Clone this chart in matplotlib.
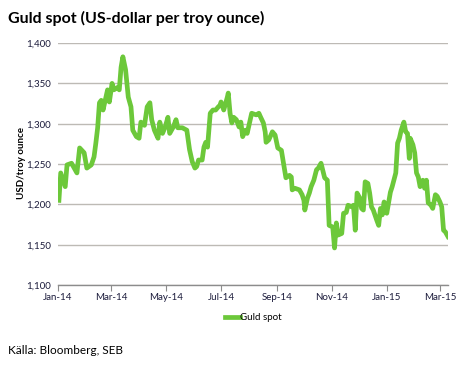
import pandas as pd
import matplotlib
matplotlib.use("Agg")
import matplotlib.pyplot as plt
import matplotlib.dates as mdates

# Guld spot, USD per troy ounce
dates = [
    "2014-01-02", "2014-01-04", "2014-01-09", "2014-01-11", "2014-01-16", "2014-01-22",
    "2014-01-25", "2014-01-30", "2014-02-02", "2014-02-07", "2014-02-10", "2014-02-12",
    "2014-02-14", "2014-02-16", "2014-02-18", "2014-02-20", "2014-02-25", "2014-02-27",
    "2014-03-02", "2014-03-04", "2014-03-08", "2014-03-10", "2014-03-12", "2014-03-14",
    "2014-03-17", "2014-03-20", "2014-03-23", "2014-03-25", "2014-03-29", "2014-04-01",
    "2014-04-03", "2014-04-07", "2014-04-10", "2014-04-13", "2014-04-15", "2014-04-18",
    "2014-04-22", "2014-04-24", "2014-04-27", "2014-04-30", "2014-05-03", "2014-05-05",
    "2014-05-09", "2014-05-12", "2014-05-14", "2014-05-19", "2014-05-24", "2014-05-27",
    "2014-05-30", "2014-06-02", "2014-06-04", "2014-06-06", "2014-06-10", "2014-06-12",
    "2014-06-14", "2014-06-16", "2014-06-19", "2014-06-22", "2014-06-25", "2014-06-28",
    "2014-06-30", "2014-07-01", "2014-07-04", "2014-07-08", "2014-07-09", "2014-07-11",
    "2014-07-13", "2014-07-15", "2014-07-18", "2014-07-21", "2014-07-23", "2014-07-25",
    "2014-07-28", "2014-07-30", "2014-08-01", "2014-08-04", "2014-08-09", "2014-08-12",
    "2014-08-14", "2014-08-17", "2014-08-19", "2014-08-20", "2014-08-23", "2014-08-27",
    "2014-08-30", "2014-09-02", "2014-09-06", "2014-09-09", "2014-09-11", "2014-09-15",
    "2014-09-17", "2014-09-18", "2014-09-21", "2014-09-26", "2014-09-29", "2014-10-01",
    "2014-10-02", "2014-10-05", "2014-10-07", "2014-10-09", "2014-10-12", "2014-10-15",
    "2014-10-17", "2014-10-20", "2014-10-24", "2014-10-27", "2014-10-29", "2014-11-02",
    "2014-11-04", "2014-11-06", "2014-11-08", "2014-11-12", "2014-11-14", "2014-11-17",
    "2014-11-19", "2014-11-23", "2014-11-25", "2014-11-27", "2014-11-29", "2014-12-02",
    "2014-12-04", "2014-12-06", "2014-12-08", "2014-12-11", "2014-12-13", "2014-12-15",
    "2014-12-17", "2014-12-21", "2014-12-23", "2014-12-25", "2014-12-27", "2014-12-29",
    "2015-01-01", "2015-01-03", "2015-01-05", "2015-01-07", "2015-01-11", "2015-01-13",
    "2015-01-15", "2015-01-17", "2015-01-20", "2015-01-22", "2015-01-24", "2015-01-26",
    "2015-01-27", "2015-01-30", "2015-02-01", "2015-02-03", "2015-02-05", "2015-02-07",
    "2015-02-10", "2015-02-12", "2015-02-14", "2015-02-16", "2015-02-19", "2015-02-21",
    "2015-02-24", "2015-02-26", "2015-03-01", "2015-03-03", "2015-03-05", "2015-03-07",
    "2015-03-10",
]
guld = [
    1205, 1239, 1222, 1249, 1251, 1239,
    1270, 1264, 1245, 1249, 1259, 1276,
    1295, 1326, 1329, 1317, 1342, 1327,
    1350, 1342, 1345, 1342, 1370, 1383,
    1367, 1333, 1321, 1292, 1284, 1282,
    1302, 1298, 1321, 1326, 1305, 1292,
    1282, 1302, 1288, 1296, 1308, 1288,
    1296, 1305, 1295, 1295, 1292, 1268,
    1253, 1245, 1247, 1255, 1255, 1271,
    1277, 1271, 1313, 1317, 1317, 1321,
    1323, 1327, 1317, 1333, 1338, 1313,
    1301, 1308, 1305, 1296, 1302, 1284,
    1292, 1288, 1298, 1313, 1311, 1313,
    1308, 1301, 1290, 1277, 1280, 1290,
    1286, 1270, 1267, 1247, 1233, 1236,
    1234, 1218, 1220, 1218, 1212, 1205,
    1193, 1208, 1214, 1222, 1230, 1243,
    1245, 1251, 1233, 1230, 1174, 1172,
    1146, 1177, 1162, 1164, 1189, 1190,
    1199, 1197, 1199, 1168, 1214, 1208,
    1195, 1193, 1228, 1226, 1214, 1197,
    1193, 1180, 1174, 1195, 1187, 1203,
    1189, 1202, 1215, 1222, 1239, 1276,
    1282, 1292, 1302, 1290, 1288, 1257,
    1282, 1274, 1264, 1239, 1234, 1222,
    1230, 1220, 1230, 1202, 1199, 1195,
    1212, 1210, 1203, 1197, 1168, 1166,
    1160,
]
tick_dates = ["2014-01-01", "2014-03-01", "2014-05-01", "2014-07-01", "2014-09-01",
              "2014-11-01", "2015-01-01", "2015-03-01"]
y_ticks = [1100, 1150, 1200, 1250, 1300, 1350, 1400]

plt.rcParams["font.family"] = ["Lato", "DejaVu Sans"]
texte = "#1c1c3c"
vert = "#6cc83a"

fig = plt.figure(figsize=(4.59, 3.65), dpi=100)
ax = fig.add_axes([0.1264, 0.219, 0.8497, 0.663])

x = pd.to_datetime(dates)
ax.plot(x, guld, color=vert, lw=3.4, solid_joinstyle="round", label="Guld spot", zorder=3)

ax.set_ylim(1100, 1400)
ax.set_yticks(y_ticks)
ax.set_yticklabels([f"{v:,}" for v in y_ticks], fontsize=7, color=texte)
ax.set_xlim(pd.Timestamp("2014-01-01"), pd.Timestamp("2015-03-10"))
ax.set_xticks(pd.to_datetime(tick_dates))
ax.xaxis.set_major_formatter(mdates.DateFormatter("%b-%y"))
for lab in ax.get_xticklabels():
    lab.set_fontsize(7)
    lab.set_color(texte)

ax.grid(axis="y", color="#bdbab5", lw=1)
ax.set_axisbelow(True)
for s in ["top", "right", "left"]:
    ax.spines[s].set_visible(False)
ax.spines["bottom"].set_color("#8c8c8c")
ax.spines["bottom"].set_linewidth(1)
ax.tick_params(axis="y", length=0, pad=5)
ax.tick_params(axis="x", length=4, color="#8c8c8c", pad=2)

fig.text(21 / 459, 0.553, "USD/troy ounce", fontsize=7, fontweight="bold", color="black",
         rotation=90, ha="center", va="center")

ax.legend(loc="upper center", bbox_to_anchor=(0.5, -0.095), frameon=False,
          fontsize=7, handlelength=1.5, handletextpad=0.0, borderpad=0)

fig.text(0.017, 0.95, "Guld spot (US-dollar per troy ounce)", fontsize=11.5,
         fontweight="bold", color="black", va="center", ha="left")
fig.text(0.017, 0.041, "Källa: Bloomberg, SEB", fontsize=8.5, color="black",
         va="center", ha="left")

fig.savefig("out.png", dpi=100)
